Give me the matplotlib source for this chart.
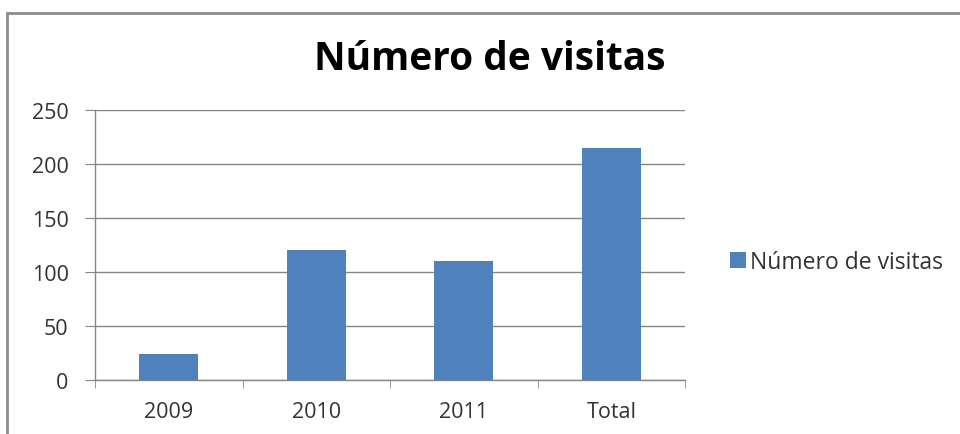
import matplotlib.pyplot as plt
from matplotlib.patches import Rectangle

categorias = ["2009", "2010", "2011", "Total"]
visitas = [24, 120, 110, 215]
serie = "Número de visitas"
ticks_y = [0, 50, 100, 150, 200, 250]

azul = "#4F81BD"
gris = "#868686"

plt.rcParams["font.family"] = ["Open Sans", "DejaVu Sans"]

fig = plt.figure(figsize=(9.6, 4.35), dpi=100)
ax = fig.add_axes([95 / 960, 1 - 381 / 435, 590 / 960, 270 / 435])

x = range(len(categorias))
ax.bar(x, visitas, width=0.4, color=azul, label=serie, zorder=3)

ax.set_ylim(0, 250)
ax.set_xlim(-0.5, len(categorias) - 0.5)
ax.set_yticks(ticks_y)
ax.set_xticks(list(x))
ax.set_xticklabels(categorias)
# marcas del eje x entre categorias
ax.set_xticks([i - 0.5 for i in range(len(categorias) + 1)], minor=True)

ax.grid(axis="y", color=gris, linewidth=1, zorder=0)
for lado in ["top", "right"]:
    ax.spines[lado].set_visible(False)
for lado in ["left", "bottom"]:
    ax.spines[lado].set_color(gris)
    ax.spines[lado].set_linewidth(1)

ax.tick_params(axis="y", length=7, color=gris, labelsize=15.5, labelcolor="#333333", pad=12)
ax.tick_params(axis="x", which="major", length=0, labelsize=15.5, labelcolor="#333333", pad=15)
ax.tick_params(axis="x", which="minor", length=6, color=gris)

fig.text(490 / 960, 1 - 60 / 435, serie, ha="center", va="center",
         fontsize=28, fontweight="bold", color="black")

ax.legend(loc="center left", bbox_to_anchor=(709 / 960, 1 - 263 / 435),
          bbox_transform=fig.transFigure, frameon=False, fontsize=16.5,
          handlelength=0.7, handleheight=0.7, handletextpad=0.2,
          labelcolor="#333333")

# borde del area del grafico
fig.patches.append(Rectangle((7 / 960, -0.1), 1.2, 1 - 14 / 435 + 0.1,
                             transform=fig.transFigure, fill=False,
                             edgecolor="#8c8c8c", linewidth=2))

fig.savefig("out.png", dpi=100)
